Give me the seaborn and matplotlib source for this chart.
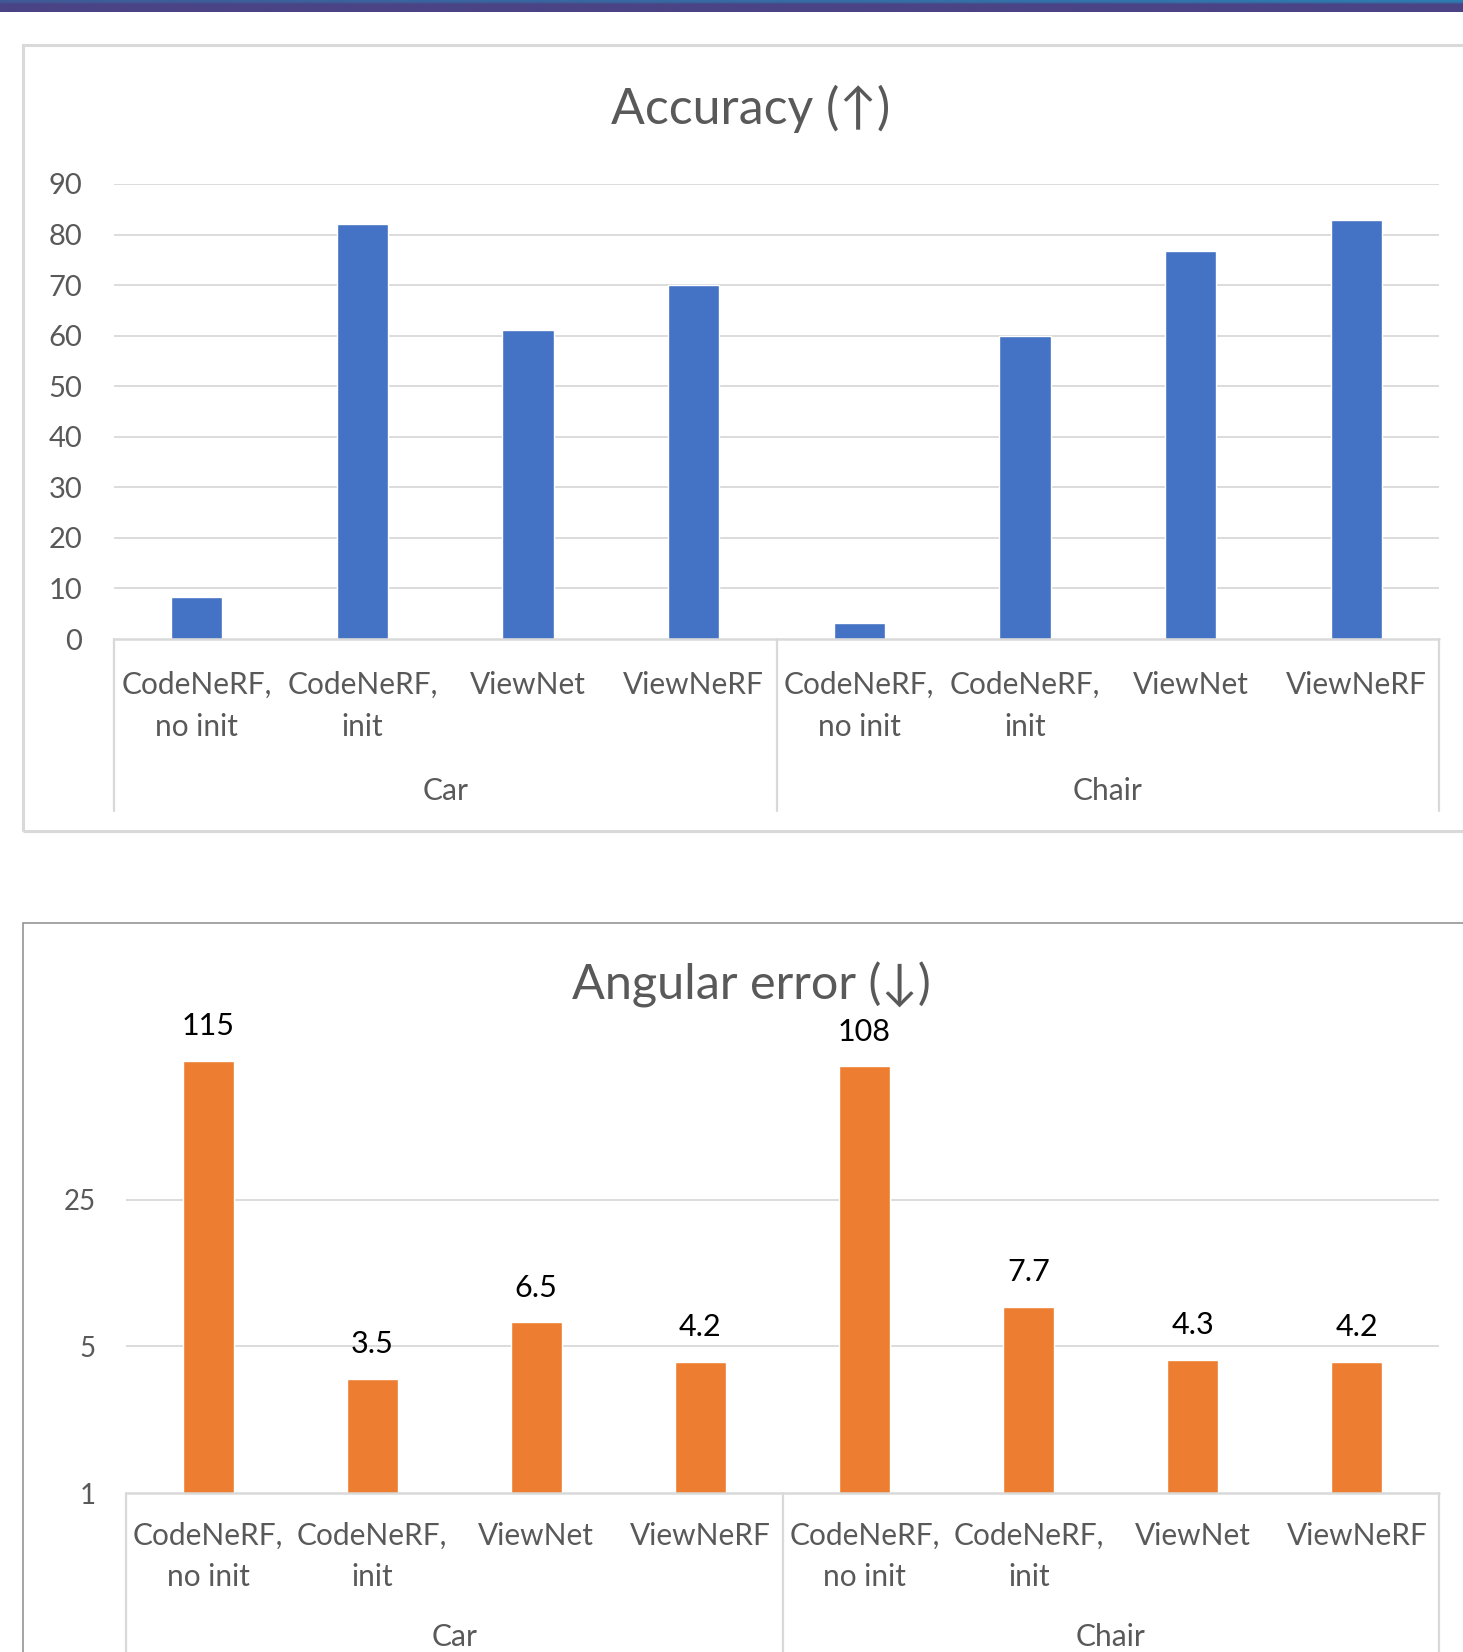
import numpy as np
import pandas as pd
import matplotlib
matplotlib.use("Agg")
import matplotlib.pyplot as plt
import seaborn as sns
from matplotlib.patches import Rectangle
from matplotlib.transforms import blended_transform_factory

# ---- data -------------------------------------------------------------
groups = ["Car", "Chair"]
methods = ["CodeNeRF,\nno init", "CodeNeRF,\ninit", "ViewNet", "ViewNeRF"]
accuracy = [8.3, 82.0, 61.2, 70.0, 3.1, 60.0, 76.7, 82.8]
angular_error = [115, 3.5, 6.5, 4.2, 108, 7.7, 4.3, 4.2]
acc_ticks = [0, 10, 20, 30, 40, 50, 60, 70, 80, 90]
err_ticks = [1, 5, 25]

slots = [f"{g} | {m}" for g in groups for m in methods]
df = pd.DataFrame({"slot": slots, "accuracy": accuracy, "angular_error": angular_error})

# ---- style ------------------------------------------------------------
sns.set_style("white")
plt.rcParams["font.family"] = ["Lato", "DejaVu Sans"]

W, H = 1463, 1652
fig = plt.figure(figsize=(W / 100, H / 100), dpi=100)
fig.patch.set_facecolor("white")


def fx(x):
    return x / W


def fy(y):
    return 1 - y / H


GREY_TXT = "#595959"
GRID = "#D9D9D9"
BLUE = "#4472C4"
ORANGE = "#ED7D31"
LABEL_SIZE = 21.5

# header band
band = fig.add_axes([0, fy(12), 1, 12 / H])
grad = np.zeros((4, 200, 3))
left_c = np.array([0x40, 0x5A, 0x96]) / 255
right_c = np.array([0x2E, 0x7C, 0xB0]) / 255
for i in range(200):
    t = i / 199
    grad[0, i] = left_c * (1 - t) + right_c * t
grad[1:, :] = np.array([0x4A, 0x43, 0x85]) / 255
band.imshow(grad, aspect="auto", interpolation="bilinear", extent=[0, 1, 0, 1])
band.axis("off")

# chart frames
fig.patches.append(Rectangle((fx(23), fy(831)), fx(1480) - fx(23), fy(45) - fy(831),
                             transform=fig.transFigure, fill=False, ec="#D9D9D9", lw=2.2,
                             zorder=0))
fig.patches.append(Rectangle((fx(23), fy(1700)), fx(1480) - fx(23), fy(923) - fy(1700),
                             transform=fig.transFigure, fill=False, ec="#8C8C8C", lw=1.1,
                             zorder=0))


def category_axis(ax, y_axis_px, line1_px, line2_px, group_px, sep_bottom_px, size):
    trans = blended_transform_factory(ax.transData, fig.transFigure)
    ax.set_xticks([])
    for i, lab in enumerate(methods * 2):
        parts = lab.split("\n")
        ax.text(i, fy(line1_px), parts[0], ha="center", va="center", color=GREY_TXT,
                fontsize=size, transform=trans, clip_on=False)
        if len(parts) > 1:
            ax.text(i, fy(line2_px), parts[1], ha="center", va="center", color=GREY_TXT,
                    fontsize=size, transform=trans, clip_on=False)
    for gi, g in enumerate(groups):
        ax.text(gi * 4 + 1.5, fy(group_px), g, ha="center", va="center", color=GREY_TXT,
                fontsize=size, transform=trans, clip_on=False)
    for xs in [-0.5, 3.5, 7.5]:
        ax.plot([xs, xs], [fy(y_axis_px), fy(sep_bottom_px)], color=GRID, lw=1.6,
                transform=trans, clip_on=False, zorder=1)
    ax.plot([-0.5, 7.5], [fy(y_axis_px), fy(y_axis_px)], color=GRID, lw=1.8,
            transform=trans, clip_on=False, zorder=3)


# ---- Accuracy ---------------------------------------------------------
ax1 = fig.add_axes([fx(114), fy(639), fx(1439) - fx(114), fy(184) - fy(639)])
sns.barplot(data=df, x="slot", y="accuracy", order=slots, color=BLUE, saturation=1,
            width=0.31, ax=ax1, zorder=2)
ax1.set_xlim(-0.5, 7.5)
ax1.set_ylim(0, 90)
ax1.set_yticks(acc_ticks)
ax1.set_yticklabels([str(t) for t in acc_ticks], color=GREY_TXT, fontsize=21)
ax1.tick_params(axis="y", length=0, pad=23)
for t in acc_ticks[1:]:
    ax1.axhline(t, color=GRID, lw=1.3, zorder=1)
ax1.set_xlabel("")
ax1.set_ylabel("")
for s in ax1.spines.values():
    s.set_visible(False)
category_axis(ax1, 639, 685, 727, 791, 811, LABEL_SIZE)
fig.text(fx(751), fy(109), "Accuracy (↑)", ha="center", va="center", color=GREY_TXT,
         fontsize=36)

# ---- Angular error ----------------------------------------------------
ax2 = fig.add_axes([fx(126), fy(1493), fx(1439) - fx(126), fy(1053) - fy(1493)])
sns.barplot(data=df, x="slot", y="angular_error", order=slots, color=ORANGE, saturation=1,
            width=0.31, ax=ax2, zorder=2)
ax2.set_yscale("log", base=5)
ax2.set_xlim(-0.5, 7.5)
ax2.set_ylim(1, 125)
ax2.set_yticks(err_ticks)
ax2.set_yticklabels([str(t) for t in err_ticks], color=GREY_TXT, fontsize=20)
ax2.minorticks_off()
ax2.tick_params(axis="y", length=0, pad=22)
for t in err_ticks[1:]:
    ax2.axhline(t, color=GRID, lw=1.3, zorder=1)
ax2.set_xlabel("")
ax2.set_ylabel("")
for s in ax2.spines.values():
    s.set_visible(False)
for i, v in enumerate(angular_error):
    ax2.annotate(f"{v:g}", (i, v), xytext=(0, 25), textcoords="offset points",
                 ha="center", va="center", fontsize=22, color="#000000",
                 annotation_clip=False)
category_axis(ax2, 1493, 1536, 1577, 1637, 1700, LABEL_SIZE)
fig.text(fx(751), fy(985), "Angular error (↓)", ha="center", va="center", color=GREY_TXT,
         fontsize=35)

fig.savefig("out.png", dpi=100, facecolor="white")
